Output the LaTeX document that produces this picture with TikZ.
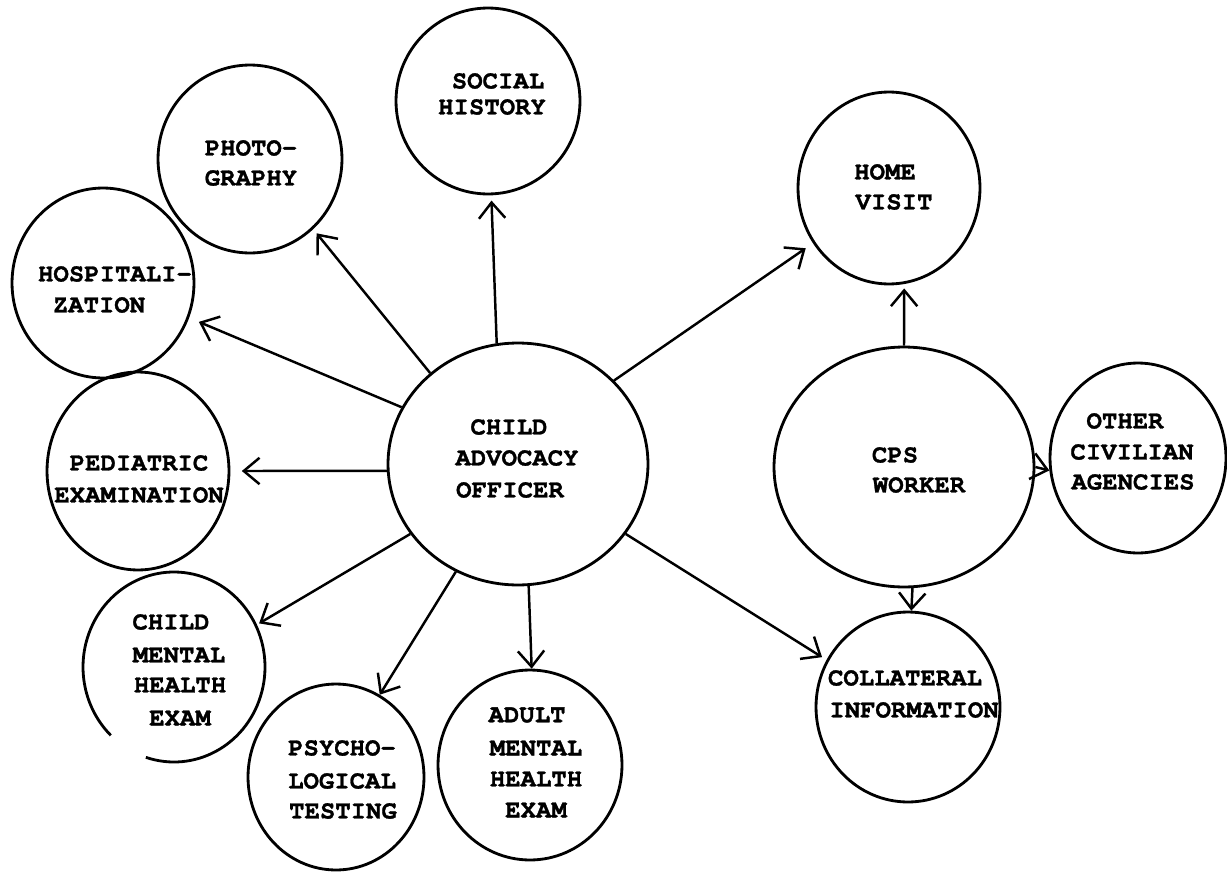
\documentclass[tikz,border=0pt]{standalone}
\usepackage{fontspec}
\newfontfamily\tw{TeX Gyre Cursor}[FakeBold=1.2]
\usetikzlibrary{shapes.geometric,arrows.meta}
\begin{document}
\begin{tikzpicture}[x=0.02cm,y=0.02cm,
  circ/.style={ellipse, draw, line width=1.6pt, inner sep=0pt},
  hole/.style={ellipse, inner sep=0pt},
  lbl/.style={font=\tw\bfseries\fontsize{14.6}{17}\selectfont, inner sep=0pt},
  arr/.style={line width=1.4pt, -{Straight Barb[length=9pt,width=15pt,line width=1.4pt]}}]
\useasboundingbox (0,0) rectangle (1227,-872);
\fill[white] (0,0) rectangle (1227,-872);
% circles
\node[circ, minimum width=3.68cm, minimum height=3.72cm] (soc) at (488,-101) {};
\node[circ, minimum width=3.68cm, minimum height=3.76cm] (pho) at (250,-159) {};
\node[circ, minimum width=3.64cm, minimum height=3.80cm] (hos) at (103,-283) {};
\node[circ, minimum width=3.64cm, minimum height=3.84cm] (home) at (889,-188) {};
\node[circ, minimum width=5.20cm, minimum height=4.84cm] (cao) at (518,-464) {};
\node[circ, minimum width=5.20cm, minimum height=4.80cm] (cps) at (904,-467) {};
\node[circ, minimum width=3.52cm, minimum height=3.80cm] (oth) at (1138,-458) {};
\node[circ, minimum width=3.64cm, minimum height=3.96cm] (ped) at (138,-471) {};
\node[hole, minimum width=3.64cm, minimum height=3.80cm] (cmh) at (174,-667) {};
\draw[line width=1.6pt] (cmh.center) ++(252:1.82cm and 1.9cm) arc[start angle=252, end angle=586, x radius=1.82cm, y radius=1.9cm];
\node[circ, minimum width=3.52cm, minimum height=3.72cm] (psy) at (336,-777) {};
\node[circ, minimum width=3.68cm, minimum height=3.80cm] (adu) at (530,-765) {};
\node[circ, minimum width=3.68cm, minimum height=3.80cm] (col) at (908,-707) {};
% labels
\node[lbl] (soc1) at (498,-81) {SOCIAL};
\node[lbl] (soc2) at (492,-107) {HISTORY};
\node[lbl] (pho1) at (251,-148) {PHOTO-};
\node[lbl] (pho2) at (251,-178) {GRAPHY};
\node[lbl] (hos1) at (115,-274) {HOSPITALI-};
\node[lbl] (hos2) at (99,-305) {ZATION};
\node[lbl] (home1) at (885,-172) {HOME};
\node[lbl] (home2) at (894,-202) {VISIT};
\node[lbl] (cao1) at (509,-427) {CHILD};
\node[lbl] (cao2) at (517,-458) {ADVOCACY};
\node[lbl] (cao3) at (510,-490) {OFFICER};
\node[lbl] (cps1) at (895,-455) {CPS};
\node[lbl] (cps2) at (919,-485) {WORKER};
\node[lbl] (oth1) at (1125,-421) {OTHER};
\node[lbl] (oth2) at (1132,-452) {CIVILIAN};
\node[lbl] (oth3) at (1133,-482) {AGENCIES};
\node[lbl] (ped1) at (139,-463) {PEDIATRIC};
\node[lbl] (ped2) at (139,-495) {EXAMINATION};
\node[lbl] (cmh1) at (171,-622) {CHILD};
\node[lbl] (cmh2) at (179,-655) {MENTAL};
\node[lbl] (cmh3) at (180,-685) {HEALTH};
\node[lbl] (cmh4) at (180,-718) {EXAM};
\node[lbl] (psy1) at (342,-748) {PSYCHO-};
\node[lbl] (psy2) at (342,-781) {LOGICAL};
\node[lbl] (psy3) at (343,-811) {TESTING};
\node[lbl] (adu1) at (527,-715) {ADULT};
\node[lbl] (adu2) at (536,-748) {MENTAL};
\node[lbl] (adu3) at (536,-779) {HEALTH};
\node[lbl] (adu4) at (536,-810) {EXAM};
\node[lbl] (col1) at (905,-678) {COLLATERAL};
\node[lbl] (col2) at (914,-710) {INFORMATION};
% arrows
\draw[arr, shorten >=3pt] (cao.100) -- (soc.272);
\draw[arr, shorten >=3pt] (cao.134) -- (pho.312);
\draw[arr, shorten >=6pt] (cao.154) -- (hos.338);
\draw[arr, shorten >=6.5pt] (cao.183) -- (ped.0);
\draw[arr, shorten >=2pt] (cao.213) -- (cmh.27);
\draw[arr] (cao.240) -- (psy.62);
\draw[arr] (cao.275) -- (adu.89);
\draw[arr, shorten >=5pt] (cao.41) -- (home.216);
\draw[arr, shorten >=3pt] (cao.327) -- (col.150);
\draw[arr, shorten >=2.5pt] (cps.90) -- (home.279);
\draw[arr] (cps.0) -- (oth.188);
\draw[arr] (cps.274) -- (col.88);
\end{tikzpicture}
\end{document}
